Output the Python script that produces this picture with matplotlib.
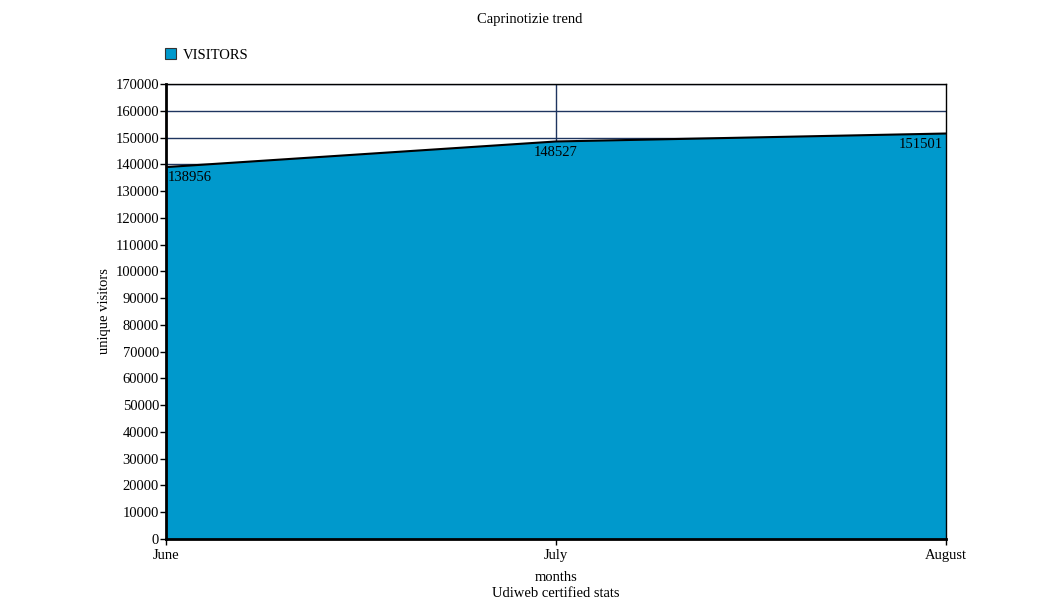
import matplotlib
matplotlib.use('Agg')
import matplotlib.pyplot as plt

months = ['June', 'July', 'August']
visitors = [138956, 148527, 151501]
yticks = list(range(0, 170001, 10000))

plt.rcParams['font.family'] = ['Liberation Serif', 'DejaVu Serif']
plt.rcParams['font.size'] = 10.5

fig = plt.figure(figsize=(10.57, 6.16), dpi=100)
ax = fig.add_axes([166 / 1057, 1 - 539 / 616, 780 / 1057, 455 / 616])

x = list(range(len(months)))
grid_color = '#1f3560'
for y in yticks[1:]:
    ax.axhline(y, color=grid_color, lw=1, zorder=1)
ax.axvline(1, color=grid_color, lw=1, zorder=1)

ax.fill_between(x, visitors, 0, color='#0099cc', zorder=2, label='VISITORS',
                edgecolor='none')
ax.plot(x, visitors, color='black', lw=1.5, zorder=3)

ax.set_xlim(0, 2)
ax.set_ylim(0, 170000)
ax.set_xticks(x)
ax.set_xticklabels(months)
ax.set_yticks(yticks)
ax.tick_params(length=4, width=1, color='black')
ax.tick_params(axis='x', pad=3)
ax.tick_params(axis='y', pad=1)

for s in ['left', 'bottom']:
    ax.spines[s].set_linewidth(2)
for s in ['top', 'right']:
    ax.spines[s].set_linewidth(1)
for s in ax.spines.values():
    s.set_zorder(5)

aligns = ['left', 'center', 'right']
for i, v in enumerate(visitors):
    ax.annotate(str(v), (x[i], v), textcoords='offset points', xytext=(1 if i == 0 else (-2 if i == 2 else 0), -3),
                ha=aligns[i], va='top', zorder=4)

ax.set_ylabel('unique visitors', labelpad=3)
ax.set_xlabel('months\nUdiweb certified stats', labelpad=7, linespacing=1.3)
fig.text(530 / 1057, 1 - 19 / 616, 'Caprinotizie trend', ha='center', va='center')

leg = fig.legend(loc='center left', bbox_to_anchor=(152 / 1057, 1 - 55 / 616), frameon=False,
                 handlelength=0.75, handleheight=0.75, handletextpad=0.45)
for h in leg.legend_handles:
    h.set_edgecolor('#333333')
    h.set_linewidth(0.8)

fig.savefig('out.png', dpi=100)
